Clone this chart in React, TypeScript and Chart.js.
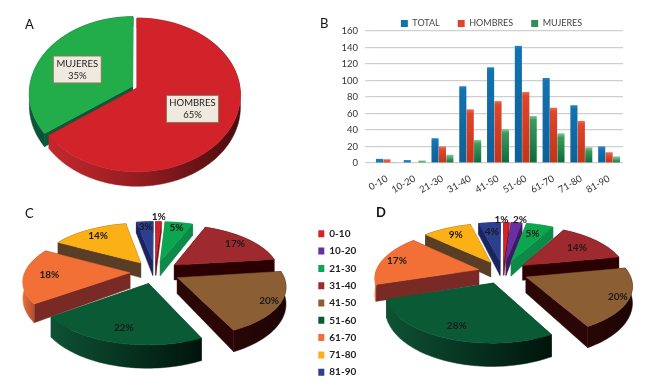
import React, { useEffect, useRef } from "react";
import { Chart, registerables } from "chart.js";

Chart.register(...registerables);

const FONT = "Lato, 'Open Sans', sans-serif";

// Panel A
const sexLabels = ["HOMBRES", "MUJERES"];
const sexValues = [65, 35];
const sexColors = ["#d2232a", "#22ad4a"];
const sexWall = [["#c4282c", "#8f1c20", "#4a0c0e"], ["#0a5a3a", "#0a3a2a", "#0a3a2a"]];
const sexOffset = [0, 5];
const sexLabelFrac = [0.59, 0.62];
const sexLabelShift = [[0, 0], [0, 4]];

// Panel B
const ageLabels = ["0-10", "10-20", "21-30", "31-40", "41-50", "51-60", "61-70", "71-80", "81-90"];
const totalValues = [5, 3.5, 30, 93, 116, 142, 103, 70, 20];
const menValues = [4.5, 0, 20, 65, 75, 86, 67, 51, 13];
const womenValues = [1, 3, 10, 28, 41, 57, 36, 19, 8];
const yTicks = [0, 20, 40, 60, 80, 100, 120, 140, 160];
const barLegendColors = ["#1272b0", "#e0452a", "#2f8f56"];

// Panels C and D
const ageColors = ["#d2232a", "#6a2fa0", "#0aa650", "#9e2a2f", "#8b5e34", "#0b5a36", "#f26f36", "#fbb015", "#2b3f8f"];
const ageWall = [
  ["#8a1a20", "#8a1a20"],
  ["#3e1a66", "#3e1a66"],
  ["#0e8a48", "#0e8a48"],
  ["#2a0002", "#2a0002"],
  ["#2a0606", "#1c0404"],
  ["#0e5234", "#00140c"],
  ["#e8703a", "#7a2a24"],
  ["#5a3d25", "#5a3d25"],
  ["#1a2560", "#1a2560"],
];
const ageCut = ["#6a1418", "#3e1a66", "#0e8a48", "#2a0002", "#2a0606", "#0e4a30", "#7a2a24", "#5a3d25", "#1a2560"];
const hombresPct = [1, 0, 5, 17, 20, 22, 18, 14, 3];
const mujeresPct = [1, 2, 5, 14, 20, 28, 17, 9, 4];
const cOffset = [25, 25, 25, 25, 25, 25, 25, 25, 25];
const dOffset = [25, 25, 25, 25, 25, 25, 25, 25, 25];
const cLabelFrac = [1.15, 0, 0.85, 0.82, 0.9, 0.78, 0.76, 0.8, 0.85];
const dLabelFrac = [1.05, 1.05, 0.72, 0.72, 0.9, 0.8, 0.85, 0.78, 0.75];
const dLabelShift = [[-5, -1], [3, -1], [0, 0], [0, 0], [0, 0], [0, 0], [0, 0], [0, 0], [0, 0]];

type Tilt = {
  cx: number;
  cy: number;
  k: number;
  p: number;
  h: number;
  walls: string[][];
  cuts: string[];
  fracs: number[];
  shifts?: number[][];
  boxed?: boolean;
  names?: string[];
};

const tiltPlugin = {
  id: "tilt",
  beforeDatasetsDraw(chart: any, _a: any, o: Tilt) {
    const { ctx } = chart;
    const meta = chart.getDatasetMeta(0);
    const values = chart.data.datasets[0].data as number[];
    const R = meta.data[0].outerRadius;
    const proj = (u: number, v: number, z = 0) => {
      const s = 1 / (1 - (o.p * v) / R);
      return [o.cx + u * s, o.cy + o.k * v * s + z * o.h * s * s];
    };
    const items = meta.data
      .map((arc: any, i: number) => {
        const mid = (arc.startAngle + arc.endAngle) / 2;
        const off = arc.options.offset || 0;
        return {
          i,
          arc,
          mid,
          ox: Math.cos(mid) * off,
          oy: Math.sin(mid) * off,
          sweep: arc.endAngle - arc.startAngle,
        };
      })
      .filter((t: any) => t.sweep > 0.0001);
    items.sort((a: any, b: any) => a.oy + Math.sin(a.mid) * R * 0.5 - (b.oy + Math.sin(b.mid) * R * 0.5));
    const poly = (pts: number[][], fill: any) => {
      ctx.beginPath();
      pts.forEach((q, n) => (n ? ctx.lineTo(q[0], q[1]) : ctx.moveTo(q[0], q[1])));
      ctx.closePath();
      ctx.fillStyle = fill;
      ctx.strokeStyle = fill;
      ctx.lineWidth = 0.5;
      ctx.fill();
      ctx.stroke();
    };
    ctx.save();
    for (const t of items) {
      const steps = Math.max(2, Math.ceil(t.sweep / 0.03));
      const rim: number[][] = [];
      for (let n = 0; n <= steps; n++) {
        const a = t.arc.startAngle + (t.sweep * n) / steps;
        rim.push([t.ox + Math.cos(a) * R, t.oy + Math.sin(a) * R]);
      }
      const apex = [t.ox, t.oy];
      const top = rim.map((q) => proj(q[0], q[1]));
      const bot = rim.map((q) => proj(q[0], q[1], 1));
      const a0 = proj(apex[0], apex[1]);
      const a1 = proj(apex[0], apex[1], 1);
      poly([a0, top[0], bot[0], a1], o.cuts[t.i]);
      poly([a0, top[steps], bot[steps], a1], o.cuts[t.i]);
      const xs = top.map((q) => q[0]);
      const g = ctx.createLinearGradient(Math.min(...xs), 0, Math.max(...xs), 0);
      const w = o.walls[t.i];
      w.forEach((c, n) => g.addColorStop(n / (w.length - 1), c));
      poly([...top, ...bot.slice().reverse()], g);
      poly([a0, ...top], t.arc.options.backgroundColor);
    }
    ctx.textAlign = "center";
    ctx.textBaseline = "middle";
    for (const t of items) {
      const f = o.fracs[t.i];
      const shift = o.shifts ? o.shifts[t.i] : [0, 0];
      const [px, py] = proj(t.ox + Math.cos(t.mid) * R * f, t.oy + Math.sin(t.mid) * R * f);
      const lx = px + shift[0];
      const ly = py + shift[1];
      const pct = `${values[t.i]}%`;
      if (o.boxed) {
        const name = (o.names as string[])[t.i];
        ctx.font = `9.5px ${FONT}`;
        const bw = Math.round(ctx.measureText(name).width + 6);
        ctx.fillStyle = "#efe9e0";
        ctx.strokeStyle = "#8a7a5a";
        ctx.lineWidth = 1;
        ctx.fillRect(lx - bw / 2, ly - 13.5, bw, 27);
        ctx.strokeRect(lx - bw / 2, ly - 13.5, bw, 27);
        ctx.fillStyle = "#222";
        ctx.fillText(name, lx, ly - 6);
        ctx.fillText(pct, lx, ly + 6.5);
      } else {
        ctx.fillStyle = "#1a1a1a";
        ctx.font = `bold 10px ${FONT}`;
        ctx.fillText(pct, lx, ly);
      }
    }
    ctx.restore();
    return false;
  },
};

const legendShiftPlugin = {
  id: "legendShift",
  afterLayout(chart: any, _a: any, o: { dx: number; dy: number }) {
    const l = chart.legend;
    if (!l || !o) return;
    l.left += o.dx || 0;
    l.right += o.dx || 0;
    l.top += o.dy || 0;
    l.bottom += o.dy || 0;
  },
};

function barFill(top: string, mid: string, bottom: string) {
  return (c: any) => {
    const chart = c.chart;
    if (!chart.chartArea || c.parsed === undefined) return mid;
    const y = chart.scales.y.getPixelForValue(c.parsed.y);
    const y0 = chart.scales.y.getPixelForValue(0);
    const g = chart.ctx.createLinearGradient(0, y, 0, Math.max(y0, y + 1));
    g.addColorStop(0, top);
    g.addColorStop(Math.min(0.9, 4 / Math.max(5, y0 - y)), mid);
    g.addColorStop(1, bottom);
    return g;
  };
}

function pieConfig(labels: string[], values: number[], colors: string[], offset: number[], radius: number, tilt: Tilt, legend: any, legendShift: any): any {
  return {
    type: "pie",
    data: { labels, datasets: [{ data: values, backgroundColor: colors, offset, borderWidth: 0 }] },
    options: {
      animation: false,
      responsive: false,
      radius,
      plugins: { legend, tooltip: { enabled: false }, tilt, legendShift },
    },
    plugins: [tiltPlugin, legendShiftPlugin],
  };
}

function useChart(config: () => any) {
  const ref = useRef<HTMLCanvasElement | null>(null);
  useEffect(() => {
    const chart = new Chart(ref.current as HTMLCanvasElement, config());
    return () => chart.destroy();
  }, []);
  return ref;
}

const canvasAt = (x: number, y: number, w: number, h: number) => ({
  position: "absolute" as const,
  left: x,
  top: y,
  width: w,
  height: h,
});

const letters = [
  { t: "A", x: 25, y: 16, w: 400 },
  { t: "B", x: 320, y: 15, w: 400 },
  { t: "C", x: 25, y: 205, w: 400 },
  { t: "D", x: 376, y: 204, w: 700 },
];

export default function App() {
  const a = useChart(() =>
    pieConfig(sexLabels, sexValues, sexColors, sexOffset, 103, {
      cx: 137, cy: 88, k: 0.74, p: 0.09, h: 12, walls: sexWall, cuts: ["#8f1c20", "#0a5a3a"], fracs: sexLabelFrac, shifts: sexLabelShift, boxed: true, names: sexLabels,
    }, { display: false }, null)
  );
  const b = useChart(() => ({
    type: "bar",
    data: {
      labels: ageLabels,
      datasets: [
        { label: "TOTAL", data: totalValues, backgroundColor: barFill("#1e84c4", "#1272b0", "#0f5f96") },
        { label: "HOMBRES", data: menValues, backgroundColor: barFill("#ee6a48", "#e0452a", "#c23418") },
        { label: "MUJERES", data: womenValues, backgroundColor: barFill("#86c898", "#3a9a5e", "#0f6a3c") },
      ],
    },
    options: {
      animation: false,
      responsive: false,
      datasets: { bar: { categoryPercentage: 0.8, barPercentage: 0.96 } },
      layout: { padding: { right: 22 } },
      plugins: {
        tooltip: { enabled: false },
        legendShift: { dx: 20, dy: 1 },
        legend: {
          position: "top",
          maxHeight: 31,
          labels: {
            boxWidth: 7,
            boxHeight: 7,
            padding: 18,
            color: "#444",
            font: { family: FONT, size: 9 },
            generateLabels: (chart: any) =>
              chart.data.datasets.map((d: any, i: number) => ({
                text: d.label,
                fillStyle: barLegendColors[i],
                strokeStyle: barLegendColors[i],
                lineWidth: 0,
                datasetIndex: i,
                fontColor: "#444",
              })),
          },
        },
      },
      scales: {
        x: {
          grid: { display: false },
          border: { display: false },
          ticks: { color: "#333", autoSkip: false, minRotation: 30, maxRotation: 30, padding: 2, font: { family: FONT, size: 9.5 } },
          afterFit: (s: any) => { s.height = 32; },
        },
        y: {
          min: 0,
          max: 160,
          afterBuildTicks: (s: any) => { s.ticks = yTicks.map((value) => ({ value })); },
          grid: { color: "#cfcfcf", lineWidth: 1.2 },
          border: { display: false },
          ticks: { color: "#333", autoSkip: false, padding: 7, font: { family: FONT, size: 9.5 } },
          afterFit: (s: any) => { s.width = 53; },
        },
      },
    },
    plugins: [legendShiftPlugin],
  }));
  const c = useChart(() =>
    pieConfig(ageLabels, hombresPct, ageColors, cOffset, 105, {
      cx: 155, cy: 77, k: 0.46, p: 0.15, h: 15.5, walls: ageWall, cuts: ageCut, fracs: cLabelFrac,
    }, { display: false }, null)
  );
  const d = useChart(() =>
    pieConfig(ageLabels, mujeresPct, ageColors, dOffset, 103, {
      cx: 203, cy: 77, k: 0.46, p: 0.15, h: 15.5, walls: ageWall, cuts: ageCut, fracs: dLabelFrac, shifts: dLabelShift,
    }, {
      position: "left",
      align: "center",
      labels: { boxWidth: 6, boxHeight: 7, padding: 7.3, color: "#222", font: { family: FONT, size: 10, weight: "bold" } },
    }, { dx: 11, dy: 14 })
  );
  return (
    <div style={{ position: "fixed", left: 0, top: 0, width: 645, height: 383, background: "#fff", overflow: "hidden" }}>
      <canvas ref={a} width={300} height={195} style={canvasAt(0, 0, 300, 195)} />
      <canvas ref={b} width={325} height={195} style={canvasAt(320, 0, 325, 195)} />
      <canvas ref={c} width={300} height={188} style={canvasAt(0, 195, 300, 188)} />
      <canvas ref={d} width={345} height={188} style={canvasAt(300, 195, 345, 188)} />
      {letters.map((l) => (
        <div key={l.t} style={{ position: "absolute", left: l.x, top: l.y, font: `${l.w} 13px/16px ${FONT}`, color: "#111" }}>{l.t}</div>
      ))}
    </div>
  );
}
